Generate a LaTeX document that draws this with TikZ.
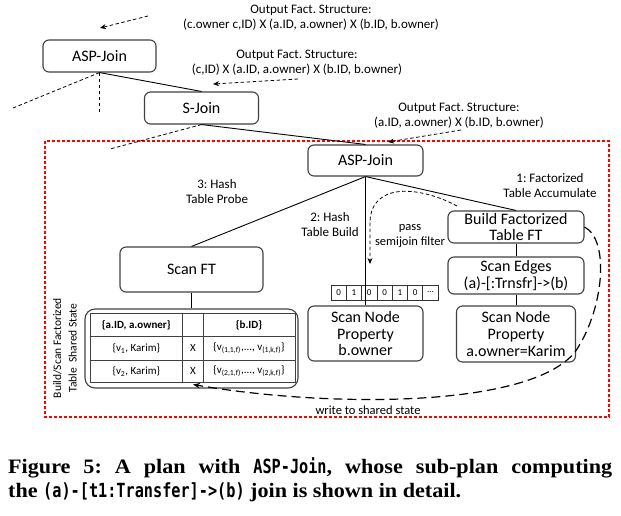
\documentclass[tikz,border=0pt]{standalone}
\usepackage{fontspec}
\setmainfont{Carlito}
\newfontfamily\capserif[FakeStretch=1.08]{Liberation Serif}
\newfontfamily\capmono[FakeStretch=0.78]{DejaVu Sans Mono}
\usetikzlibrary{arrows.meta}
\frenchspacing
\begin{document}
\begin{tikzpicture}[x=1pt,y=-1pt,
  box/.style={draw=black!75, line width=1.1pt, rounded corners=6pt, align=center, inner sep=0pt, font=\fontsize{16}{16.8}\selectfont},
  conn/.style={draw=black, line width=0.9pt},
  dconn/.style={draw=black, line width=0.8pt, dash pattern=on 3.5pt off 2.5pt},
  darr/.style={dconn, -{Stealth[length=6pt,width=5pt]}},
  lbl/.style={align=center, inner sep=0pt, font=\fontsize{13}{15}\selectfont},
  slbl/.style={align=center, inner sep=0pt, font=\fontsize{12.5}{14.5}\selectfont},
  cell/.style={draw=black!80, line width=0.7pt, minimum width=15.3pt, minimum height=15pt, inner sep=0pt, font=\fontsize{9}{9}\selectfont},
  tcell/.style={inner sep=0pt, font=\fontsize{11}{12}\selectfont},
  capline/.style={anchor=base west, inner sep=0pt, font=\capserif\bfseries\fontsize{20.5}{24}\selectfont}
]
\useasboundingbox (0,0) rectangle (621,515);

% red frame
\draw[draw=red, line width=1.1pt, dash pattern=on 3pt off 2pt] (45,141) rectangle (609,417);

% boxes
\node[box, minimum width=113pt, minimum height=32pt] (aspT) at (99.5,56) {ASP-Join};
\node[box, minimum width=114pt, minimum height=32pt] (sjoin) at (201.5,108) {S-Join};
\node[box, minimum width=115pt, minimum height=31pt] (aspL) at (365.5,160.5) {ASP-Join};
\node[box, minimum width=143pt, minimum height=45pt] (scanft) at (191.5,269.5) {Scan FT};
\node[box, minimum width=136pt, minimum height=32pt] (bft) at (516,227) {Build Factorized\\Table FT};
\node[box, minimum width=136pt, minimum height=37pt] (sedges) at (516,275.5) {Scan Edges\\(a)-[:Trnsfr]->(b)};
\node[box, minimum width=119pt, minimum height=56pt] (snk) at (516,334) {Scan Node\\Property\\a.owner=Karim};
\node[box, minimum width=115pt, minimum height=55pt] (snb) at (365.5,333.5) {Scan Node\\Property\\b.owner};

% table
\node[box, rounded corners=10pt, minimum width=213pt, minimum height=79pt] (tbl) at (191.5,348.5) {};
\draw[draw=black!75, line width=0.9pt] (90,313.3) rectangle (295,382.7);
\draw[draw=black!75, line width=0.9pt] (90,336.7) -- (295,336.7) (90,360) -- (295,360)
  (182.7,313.3) -- (182.7,382.7) (203.3,313.3) -- (203.3,382.7);
\node[tcell, font=\bfseries\fontsize{11}{12}\selectfont] (h1) at (136.3,325) {\{a.ID, a.owner\}};
\node[tcell, font=\bfseries\fontsize{11}{12}\selectfont] (h3) at (249,325) {\{b.ID\}};
\node[tcell] (r1a) at (136.3,348.3) {\{v\textsubscript{1}, Karim\}};
\node[tcell] (r1b) at (193,348.3) {X};
\node[tcell] (r1c) at (249,348.3) {\{v\textsubscript{(1,1,f)},..., v\textsubscript{(1,k,f)}\}};
\node[tcell] (r2a) at (136.3,371.3) {\{v\textsubscript{2}, Karim\}};
\node[tcell] (r2b) at (193,371.3) {X};
\node[tcell] (r2c) at (249,371.3) {\{v\textsubscript{(2,1,f)},..., v\textsubscript{(2,k,f)}\}};
\node[rotate=90, align=center, inner sep=0pt, font=\fontsize{11.5}{15.5}\selectfont] (side) at (65,348) {Build/Scan Factorized\\Table~~Shared State};

% bitmap
\foreach \v [count=\i] in {0,1,0,0,1,0,{\dots}} {
  \node[cell] (bm\i) at ({331+15.3*(\i-0.5)},292.5) {\v};
}

% labels
\node[lbl] (t1) at (311,17.5) {Output Fact. Structure:\\(c.owner c,ID) X (a.ID, a.owner) X (b.ID, b.owner)};
\node[lbl] (t2) at (297,63) {Output Fact. Structure:\\(c,ID) X (a.ID, a.owner) X (b.ID, b.owner)};
\node[lbl] (t3) at (459,115.5) {Output Fact. Structure:\\(a.ID, a.owner) X (b.ID, b.owner)};
\node[lbl] (l3) at (217,192) {3: Hash\\Table Probe};
\node[lbl] (l2) at (330,224.5) {2: Hash\\Table Build};
\node[lbl] (l1) at (550,186) {1: Factorized\\Table Accumulate};
\node[slbl] (lp) at (410,236) {pass\\semijoin filter};
\node[slbl] (lw) at (368,410) {write to shared state};

% free-end coordinates
\coordinate (a1s) at (148,16);  \coordinate (a1e) at (100,28);
\coordinate (a2s) at (298,79);  \coordinate (a2e) at (213,84);
\coordinate (a3s) at (461,130); \coordinate (a3e) at (388,142);
\coordinate (dl1) at (13,108);  \coordinate (dv1) at (99.5,113);
\coordinate (dl2) at (110,149);
\coordinate (ps) at (457,206);  \coordinate (pe) at (370,264);
\coordinate (we) at (193,384.5);

% connectors
\draw[conn] (aspT.south) -- (sjoin.north);
\draw[dconn] (aspT.south) -- (dl1);
\draw[dconn] (aspT.south) -- (dv1);
\draw[conn] (sjoin.south) -- (aspL.north);
\draw[dconn] (sjoin.south) -- (dl2);
\draw[darr] (a1s) -- (a1e);
\draw[darr] (a2s) -- (a2e);
\draw[darr] (a3s) -- (a3e);

\draw[conn] (aspL.south) -- (scanft.north);
\draw[conn] (aspL.south) -- (snb.north);
\draw[conn] (aspL.south) -- (bft.north);
\draw[conn] (bft.south) -- (sedges.north);
\draw[conn] (sedges.south) -- (snk.north);
\draw[conn] (scanft.south) -- (tbl.north);

\draw[darr] (ps) .. controls (420,186) and (371,182) .. (370,222) -- (pe);
\draw[draw=black, line width=1.2pt, dash pattern=on 9pt off 5pt, -{Stealth[length=7pt,width=5.5pt]}]
  (bft.east) .. controls (610,240) and (604,310) .. (575,352) .. controls (530,408) and (330,408) .. (we);

% caption
\node[capline] (cap1) at (8,473) {\makebox[604pt][s]{Figure 5: A plan with {\capmono\fontsize{19.5}{24}\selectfont ASP-Join}, whose sub-plan computing}};
\node[capline] (cap2) at (8,497) {the {\capmono\fontsize{19.5}{24}\selectfont (a)-[t1:Transfer]->(b)} join is shown in detail.};
\end{tikzpicture}
\end{document}
